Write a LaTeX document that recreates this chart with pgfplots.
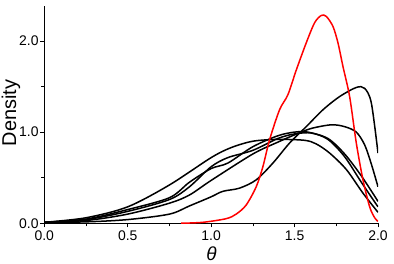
\documentclass[border=0pt]{standalone}
\usepackage{pgfplots}
\pgfplotsset{compat=1.18}
\usepackage{fontspec}
\setmainfont{Liberation Sans}
\begin{document}
\begin{tikzpicture}
\useasboundingbox (0,0) rectangle (394bp,264bp);
\begin{axis}[
  at={(44.3bp,40.5bp)}, anchor=south west,
  scale only axis, width=333.7bp, height=217.5bp,
  xmin=0, xmax=2, ymin=-0.003, ymax=2.384,
  axis x line*=bottom, axis y line*=left,
  axis line style={-, line width=1bp},
  tick align=outside, major tick length=4bp, minor tick length=3bp,
  tick style={line width=0.7bp, black},
  xtick={0,0.5,1,1.5,2}, minor xtick={0.25,0.75,1.25,1.75},
  ytick={0,1,2}, minor ytick={0.5,1.5},
  /pgf/number format/assume math mode=true,
  /pgf/number format/fixed, /pgf/number format/fixed zerofill,
  /pgf/number format/precision=1,
  ticklabel style={font=\fontsize{14}{16}\selectfont},
  xticklabel style={inner sep=3.5bp},
  yticklabel style={inner sep=1.5bp},
  ylabel={Density},
  ylabel style={at={(axis description cs:-0.100,0.508)}, anchor=center, font=\fontsize{20}{22}\selectfont},
  xlabel={\itshape θ},
  xlabel style={at={(axis description cs:0.501,-0.138)}, anchor=center, font=\fontsize{19}{21}\selectfont},
  clip=true,
]
% curve A
\addplot[black, line width=1.5bp, smooth] coordinates {
(0,0.01) (0.25,0.06) (0.5,0.18) (0.75,0.42) (1.0,0.72) (1.12,0.83) (1.25,0.9) (1.4,0.92) (1.56,0.91) (1.63,0.87) (1.71,0.77) (1.81,0.59) (1.91,0.33) (2.0,0.12)};
% curve B
\addplot[black, line width=1.5bp, smooth] coordinates {
(0,0.01) (0.25,0.015) (0.5,0.04) (0.75,0.1) (0.87,0.19) (1.0,0.29) (1.07,0.35) (1.17,0.385) (1.27,0.476) (1.37,0.66) (1.47,0.88) (1.57,1.06) (1.67,1.245) (1.77,1.39) (1.87,1.49) (1.92,1.48) (1.96,1.32) (2.0,0.77)};
% curve C
\addplot[black, line width=1.5bp, smooth] coordinates {
(0,0.01) (0.25,0.03) (0.5,0.1) (0.75,0.22) (0.87,0.31) (1.0,0.47) (1.25,0.76) (1.4,0.89) (1.5,0.97) (1.6,1.04) (1.72,1.08) (1.8,1.06) (1.87,1.0) (1.92,0.86) (1.96,0.65) (2.0,0.40)};
% curve D
\addplot[black, line width=1.5bp, smooth] coordinates {
(0,0.01) (0.25,0.045) (0.5,0.15) (0.75,0.28) (0.87,0.45) (1.0,0.6) (1.1,0.66) (1.25,0.84) (1.4,0.96) (1.5,1.0) (1.58,1.0) (1.7,0.93) (1.8,0.76) (1.9,0.52) (2.0,0.24)};
% curve E
\addplot[black, line width=1.5bp, smooth] coordinates {
(0,0.01) (0.25,0.04) (0.5,0.13) (0.75,0.26) (0.87,0.40) (1.0,0.62) (1.1,0.72) (1.25,0.8) (1.4,0.93) (1.5,0.98) (1.6,0.99) (1.7,0.92) (1.8,0.73) (1.9,0.45) (2.0,0.18)};
% red
\addplot[red, line width=1.5bp, smooth] coordinates {
(0.82,0.0) (0.95,0.01) (1.09,0.05) (1.15,0.10) (1.21,0.2) (1.27,0.40) (1.31,0.62) (1.35,0.915) (1.41,1.245) (1.46,1.41) (1.51,1.68) (1.57,1.98) (1.62,2.2) (1.66,2.28) (1.69,2.27) (1.73,2.16) (1.76,1.98) (1.79,1.72) (1.83,1.39) (1.87,0.88) (1.91,0.476) (1.95,0.18) (1.98,0.06) (2.0,0.02)};
\end{axis}
\end{tikzpicture}
\end{document}
